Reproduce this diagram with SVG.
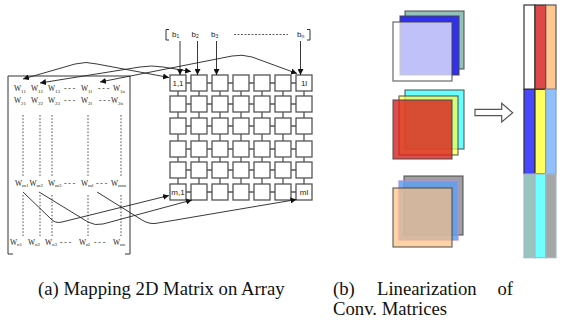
<svg xmlns="http://www.w3.org/2000/svg" width="571" height="320" viewBox="0 0 571 320">
<defs>
<marker id="ah" viewBox="0 0 10 10" refX="10" refY="5" markerWidth="6" markerHeight="6" orient="auto-start-reverse" markerUnits="userSpaceOnUse">
<path d="M0,0 L10,5 L0,10 z" fill="#111"/>
</marker>
<style>
.cell{fill:#fff;stroke:#555;stroke-width:1.3}
.stub{stroke:#555;stroke-width:1.3}
.lbl{font-family:"Liberation Sans",Arial,sans-serif;font-size:8px;fill:#222}
.w{font-family:"Liberation Serif","Times New Roman",serif;font-size:7.5px;fill:#222}
.sub{font-size:5px}
.dot{stroke:#333;stroke-width:0.9;stroke-dasharray:1.5 1.8;fill:none}
.box{stroke:#333;stroke-width:1;fill:none}
.con{stroke:#222;stroke-width:0.9;fill:none}
.cap{font-family:"Liberation Serif","Times New Roman",serif;font-size:18.7px;fill:#111}
.sq{stroke:#444;stroke-width:1.2;stroke-opacity:0.8}
</style>
</defs>
<rect width="571" height="320" fill="#fff"/>

<!-- matrix W -->
<g id="matrixW">
<path class="box" d="M8,254 V76 H130 V254 M8,254 H13 M125,254 H130"/>
<g class="w">
<text x="14" y="91">W<tspan class="sub" dy="1.5">11</tspan></text>
<text x="31" y="91">W<tspan class="sub" dy="1.5">12</tspan></text>
<text x="48" y="91">W<tspan class="sub" dy="1.5">13</tspan></text>
<text x="64" y="91">- - -</text>
<text x="81" y="91">W<tspan class="sub" dy="1.5">1l</tspan></text>
<text x="98" y="91">- - -</text>
<text x="113" y="91">W<tspan class="sub" dy="1.5">1n</tspan></text>

<text x="14" y="103">W<tspan class="sub" dy="1.5">21</tspan></text>
<text x="31" y="103">W<tspan class="sub" dy="1.5">22</tspan></text>
<text x="48" y="103">W<tspan class="sub" dy="1.5">23</tspan></text>
<text x="64" y="103">- - -</text>
<text x="81" y="103">W<tspan class="sub" dy="1.5">2l</tspan></text>
<text x="99" y="103">- - -</text>
<text x="111" y="103">W<tspan class="sub" dy="1.5">2n</tspan></text>

<text x="15" y="185.5">W<tspan class="sub" dy="1.5">m1</tspan></text>
<text x="29.5" y="185.5">W<tspan class="sub" dy="1.5">m2</tspan></text>
<text x="48" y="185.5">W<tspan class="sub" dy="1.5">m3</tspan></text>
<text x="64" y="185.5">- - -</text>
<text x="81" y="185.5">W<tspan class="sub" dy="1.5">ml</tspan></text>
<text x="96" y="185.5">- - -</text>
<text x="111" y="185.5">W<tspan class="sub" dy="1.5">mm</tspan></text>

<text x="10" y="244.5">W<tspan class="sub" dy="1.5">n1</tspan></text>
<text x="28" y="244.5">W<tspan class="sub" dy="1.5">n2</tspan></text>
<text x="45" y="244.5">W<tspan class="sub" dy="1.5">n3</tspan></text>
<text x="60" y="244.5">- - -</text>
<text x="79" y="244.5">W<tspan class="sub" dy="1.5">nl</tspan></text>
<text x="94" y="244.5">- - -</text>
<text x="113" y="244.5">W<tspan class="sub" dy="1.5">nn</tspan></text>
</g>
<path class="dot" d="M23,115 V177 M40,115 V177 M52,115 V177 M88,115 V177 M121,115 V177 M23,195 V236 M40,195 V236 M52,195 V236 M88,195 V236 M121,195 V236"/>
</g>

<!-- b vector -->
<g id="vectorB">
<path class="box" d="M169,29.5 H166 V40 H169 M307,29.5 H310 V40 H307"/>
<text class="lbl" x="172" y="37">b<tspan font-size="5" dy="1">1</tspan></text>
<text class="lbl" x="191.5" y="37">b<tspan font-size="5" dy="1">2</tspan></text>
<text class="lbl" x="211" y="37">b<tspan font-size="5" dy="1">3</tspan></text>
<path d="M234,34.5 H288" stroke="#333" stroke-width="0.8" stroke-dasharray="2 1.5"/>
<text class="lbl" x="297" y="37">b<tspan font-size="5" dy="1">n</tspan></text>
</g>

<!-- array grid -->
<g id="array">
<g class="stub">
<path d="M186,83 H191 M207,83 H212 M228,83 H233 M249,83 H254 M270,83 H275 M291,83 H296
M186,104 H191 M207,104 H212 M228,104 H233 M249,104 H254 M270,104 H275 M291,104 H296
M186,126 H191 M207,126 H212 M228,126 H233 M249,126 H254 M270,126 H275 M291,126 H296
M186,149 H191 M207,149 H212 M228,149 H233 M249,149 H254 M270,149 H275 M291,149 H296
M186,170 H191 M207,170 H212 M228,170 H233 M249,170 H254 M270,170 H275 M291,170 H296
M186,192 H191 M207,192 H212 M228,192 H233 M249,192 H254 M270,192 H275 M291,192 H296"/>
<path d="M178,91 V96 M199,91 V96 M220,91 V96 M241,91 V96 M262,91 V96 M283,91 V96 M304,91 V96
M178,112 V118 M199,112 V118 M220,112 V118 M241,112 V118 M262,112 V118 M283,112 V118 M304,112 V118
M178,134 V141 M199,134 V141 M220,134 V141 M241,134 V141 M262,134 V141 M283,134 V141 M304,134 V141
M178,157 V162 M199,157 V162 M220,157 V162 M241,157 V162 M262,157 V162 M283,157 V162 M304,157 V162
M178,178 V184 M199,178 V184 M220,178 V184 M241,178 V184 M262,178 V184 M283,178 V184 M304,178 V184"/>
</g>
<g id="row1">
<rect class="cell" x="170" y="75" width="16" height="16"/><rect class="cell" x="191" y="75" width="16" height="16"/><rect class="cell" x="212" y="75" width="16" height="16"/><rect class="cell" x="233" y="75" width="16" height="16"/><rect class="cell" x="254" y="75" width="16" height="16"/><rect class="cell" x="275" y="75" width="16" height="16"/><rect class="cell" x="296" y="75" width="16" height="16"/>
</g>
<g id="row2">
<rect class="cell" x="170" y="96" width="16" height="16"/><rect class="cell" x="191" y="96" width="16" height="16"/><rect class="cell" x="212" y="96" width="16" height="16"/><rect class="cell" x="233" y="96" width="16" height="16"/><rect class="cell" x="254" y="96" width="16" height="16"/><rect class="cell" x="275" y="96" width="16" height="16"/><rect class="cell" x="296" y="96" width="16" height="16"/>
</g>
<g id="row3">
<rect class="cell" x="170" y="118" width="16" height="16"/><rect class="cell" x="191" y="118" width="16" height="16"/><rect class="cell" x="212" y="118" width="16" height="16"/><rect class="cell" x="233" y="118" width="16" height="16"/><rect class="cell" x="254" y="118" width="16" height="16"/><rect class="cell" x="275" y="118" width="16" height="16"/><rect class="cell" x="296" y="118" width="16" height="16"/>
</g>
<g id="row4">
<rect class="cell" x="170" y="141" width="16" height="16"/><rect class="cell" x="191" y="141" width="16" height="16"/><rect class="cell" x="212" y="141" width="16" height="16"/><rect class="cell" x="233" y="141" width="16" height="16"/><rect class="cell" x="254" y="141" width="16" height="16"/><rect class="cell" x="275" y="141" width="16" height="16"/><rect class="cell" x="296" y="141" width="16" height="16"/>
</g>
<g id="row5">
<rect class="cell" x="170" y="162" width="16" height="16"/><rect class="cell" x="191" y="162" width="16" height="16"/><rect class="cell" x="212" y="162" width="16" height="16"/><rect class="cell" x="233" y="162" width="16" height="16"/><rect class="cell" x="254" y="162" width="16" height="16"/><rect class="cell" x="275" y="162" width="16" height="16"/><rect class="cell" x="296" y="162" width="16" height="16"/>
</g>
<g id="row6">
<rect class="cell" x="170" y="184" width="16" height="16"/><rect class="cell" x="191" y="184" width="16" height="16"/><rect class="cell" x="212" y="184" width="16" height="16"/><rect class="cell" x="233" y="184" width="16" height="16"/><rect class="cell" x="254" y="184" width="16" height="16"/><rect class="cell" x="275" y="184" width="16" height="16"/><rect class="cell" x="296" y="184" width="16" height="16"/>
</g>
<text class="lbl" x="178" y="86" text-anchor="middle">1,1</text>
<text class="lbl" x="304" y="86" text-anchor="middle">1l</text>
<text class="lbl" x="178" y="195" text-anchor="middle">m,1</text>
<text class="lbl" x="304" y="195" text-anchor="middle">ml</text>
</g>

<!-- connectors -->
<g id="connectors" class="con">
<path d="M180,41 V75" marker-end="url(#ah)"/>
<path d="M197.5,41 V75" marker-end="url(#ah)"/>
<path d="M216.5,41 V75" marker-end="url(#ah)"/>
<path d="M300.5,41 V75" marker-end="url(#ah)"/>
<path d="M23,79 L75,64 Q86,61 97,64 L169,77.5" marker-start="url(#ah)" marker-end="url(#ah)"/>
<path d="M40,83 L140,67 Q152,65 163,67 L191,71.5" marker-start="url(#ah)" marker-end="url(#ah)"/>
<path d="M100,82 L232,56 Q242,54 252,57 L297,73.5" marker-start="url(#ah)" marker-end="url(#ah)"/>
<path d="M23,192 L50,218 Q55,224 62,222 L169,195.5" marker-end="url(#ah)"/>
<path d="M39,192 L88,222 Q95,226 103,224 L192,200" marker-end="url(#ah)"/>
<path d="M97,192 L142,220 Q150,225 158,223 L296.5,199.5" marker-end="url(#ah)"/>
</g>

<!-- (b) conv matrices -->
<g id="stack1">
<rect class="sq" x="405" y="11" width="59" height="58" fill="#93c2b8"/>
<rect class="sq" x="400" y="16" width="59" height="59" fill="#3030ee"/>
<rect class="sq" x="393" y="22" width="59" height="59" fill="#fff" fill-opacity="0.7"/>
</g>
<g id="stack2">
<rect class="sq" x="405" y="90" width="59" height="59" fill="#66ffff"/>
<rect class="sq" x="399" y="96" width="59" height="59" fill="#ffff44" fill-opacity="0.7"/>
<rect class="sq" x="393" y="100" width="59" height="59" fill="#d82020" fill-opacity="0.8"/>
</g>
<g id="stack3">
<rect class="sq" x="404" y="176" width="59" height="59" fill="#a0a0a0"/>
<rect x="399" y="181" width="59" height="59" fill="#5fa0f0" fill-opacity="0.85" stroke="#b090e0" stroke-width="1.2"/>
<rect class="sq" x="393" y="188" width="59" height="59" fill="#ffc080" fill-opacity="0.7"/>
</g>
<g id="bigArrow">
<polygon points="475,109.3 501.7,109.3 501.7,103.3 512.7,112.7 501.7,122 501.7,115.7 475,115.7" fill="#fff" stroke="#555" stroke-width="1.2"/>
</g>
<g id="column">
<rect x="524" y="5" width="11" height="84.3" fill="#fff" stroke="#333" stroke-width="1.2"/>
<rect x="535" y="5" width="10.7" height="84.3" fill="#dd4848" stroke="#333" stroke-width="1.2"/>
<rect x="545.7" y="5" width="10.3" height="84.3" fill="#ffc890" stroke="#555" stroke-width="1.2"/>
<rect x="524" y="89.3" width="11" height="84.7" fill="#4848ff" stroke="#333" stroke-width="1.2"/>
<rect x="535" y="89.3" width="10.7" height="84.7" fill="#ffff60" stroke="#333" stroke-width="1.2"/>
<rect x="545.7" y="89.3" width="10.3" height="84.7" fill="#90c0ff" stroke="#8aa0c0" stroke-width="1.2"/>
<rect x="524" y="174" width="11" height="83.7" fill="#98c4bc" stroke="#a0b8d0" stroke-width="1.2"/>
<rect x="535" y="174" width="10.7" height="83.7" fill="#70ffff" stroke="#a0b8d0" stroke-width="1.2"/>
<rect x="545.7" y="174" width="10.3" height="83.7" fill="#a6a6a6" stroke="#a0b8d0" stroke-width="1.2"/>
</g>

<!-- captions -->
<text class="cap" x="38" y="295">(a) Mapping 2D Matrix on Array</text>
<text class="cap" x="333" y="295">(b)</text>
<text class="cap" x="377" y="295">Linearization</text>
<text class="cap" x="513" y="295" text-anchor="end">of</text>
<text class="cap" x="333" y="314.5">Conv. Matrices</text>
</svg>
